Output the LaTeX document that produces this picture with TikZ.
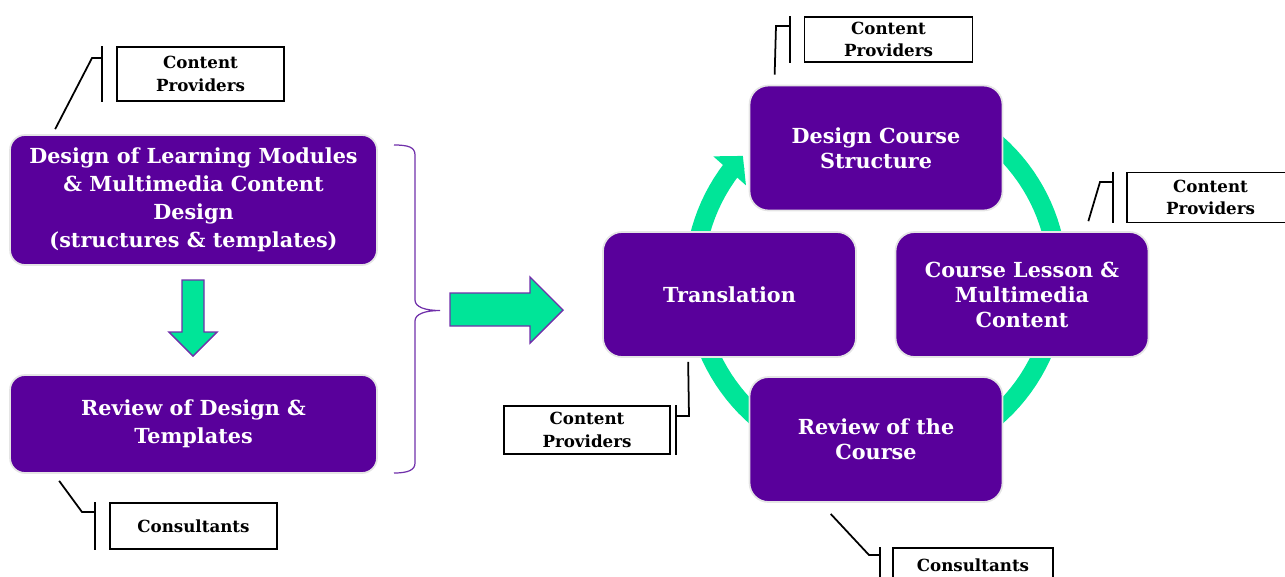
\documentclass[tikz,border=0pt]{standalone}
\usepackage{fontspec}
\setmainfont{DejaVu Serif}
\usetikzlibrary{arrows.meta}

\definecolor{boxpurple}{RGB}{89,0,155}
\definecolor{ringgreen}{RGB}{0,229,152}
\definecolor{edgepurple}{RGB}{112,48,170}

\begin{document}
\begin{tikzpicture}[x=0.02cm,y=-0.02cm,semithick]
  \tikzstyle{task}=[rectangle,rounded corners=0.3cm,fill=boxpurple,draw=black!10,
    line width=1pt,text=white,align=center,font=\bfseries\fontsize{11.8}{15.9}\selectfont]
  \tikzstyle{stage}=[task,rounded corners=0.38cm,minimum width=5.06cm,minimum height=2.5cm,
    font=\bfseries\fontsize{11.8}{14.2}\selectfont]
  \tikzstyle{note}=[rectangle,fill=white,draw=black,line width=1pt,align=center,inner sep=1pt,
    minimum width=3.34cm,font=\bfseries\fontsize{9.5}{12.9}\selectfont]
  \tikzstyle{lead}=[black,line width=1pt]

  \clip (0,0) rectangle (1285,576);

  % green cycle arrow
  \draw[ringgreen,line width=0.38cm,-{Triangle[length=0.4cm,width=0.85cm]}]
    plot[domain=-100:223,samples=120] ({876+182*cos(\x)},{280+182*sin(\x)});

  % left column
  \node[task,minimum width=7.34cm,minimum height=2.6cm] (DM) at (193.5,200)
    {Design of Learning Modules\\ \& Multimedia Content\\ Design\\ (structures \& templates)};
  \node[task,minimum width=7.34cm,minimum height=1.96cm] (RD) at (193.5,424)
    {Review of Design \&\\ Templates};

  % right cycle
  \node[stage] (DC) at (876,148)    {Design Course\\ Structure};
  \node[stage] (CL) at (1022,294.5) {Course Lesson \&\\ Multimedia\\ Content};
  \node[stage] (TR) at (729.5,294.5) {Translation};
  \node[stage] (RC) at (876,439.5)  {Review of the\\ Course};

  % block arrows
  \filldraw[fill=ringgreen,draw=edgepurple,line width=0.8pt]
    (182,280) -- (204,280) -- (204,332) -- (217,332) -- (193,356) -- (169,332) -- (182,332) -- cycle;
  \filldraw[fill=ringgreen,draw=edgepurple,line width=0.8pt]
    (450,293) -- (530,293) -- (530,277) -- (563,310) -- (530,343) -- (530,326) -- (450,326) -- cycle;

  % brace
  \draw[edgepurple,line width=0.7pt] (394,145) .. controls (408,145) and (415,147) .. (415,155)
    -- (415,300) .. controls (415,307) and (425,310.5) .. (440,310.5)
    .. controls (425,310.5) and (415,314) .. (415,321)
    -- (415,463) .. controls (415,470) and (408,473) .. (394,473);

  % callouts
  \node[note,minimum height=1.08cm] (P1) at (200.5,74)    {Content\\ Providers};
  \node[note,minimum height=0.92cm] (C1) at (193.5,526)   {Consultants};
  \node[note,minimum width=3.36cm,minimum height=0.9cm] (P2) at (888.5,39.5) {Content\\ Providers};
  \node[note,minimum height=1.0cm]  (P3) at (1210.5,197.5) {Content\\ Providers};
  \node[note,minimum width=3.32cm,minimum height=0.96cm] (P4) at (587,430) {Content\\ Providers};
  \node[note,minimum width=3.2cm,minimum height=0.68cm] (C2) at (973,565) {Consultants};

  \coordinate (k1) at (92,58);
  \coordinate (k2) at (82,512);
  \coordinate (k3) at (776,26);
  \coordinate (k4) at (1100,182);
  \coordinate (k5) at (689,416);
  \coordinate (k6) at (869,555);

  \draw[lead] ([xshift=-0.28cm]P1.north west) coordinate (b1) -- ([xshift=-0.28cm]P1.south west);
  \draw[lead] ([shift={(46,-5)}]DM.north west) -- (k1) -- (k1 -| b1);

  \draw[lead] ([xshift=-0.28cm]C1.north west) coordinate (b2) -- ([xshift=-0.28cm]C1.south west);
  \draw[lead] ([shift={(50,7)}]RD.south west) -- (k2) -- (k2 -| b2);

  \draw[lead] ([xshift=-0.28cm]P2.north west) coordinate (b3) -- ([xshift=-0.28cm]P2.south west);
  \draw[lead] ([shift={(26,-10)}]DC.north west) -- (k3) -- (k3 -| b3);

  \draw[lead] ([xshift=-0.26cm]P3.north west) coordinate (b4) -- ([xshift=-0.26cm]P3.south west);
  \draw[lead] ([shift={(-61,-10)}]CL.north east) -- (k4) -- (k4 -| b4);

  \draw[lead] ([xshift=0.1cm]P4.north east) coordinate (b5) -- ([xshift=0.1cm]P4.south east);
  \draw[lead] ([shift={(86,4)}]TR.south west) -- (k5) -- (k5 -| b5);

  \draw[lead] ([xshift=-0.24cm]C2.north west) coordinate (b6) -- ([xshift=-0.24cm]C2.south west);
  \draw[lead] ([shift={(82,11)}]RC.south west) -- (k6) -- (k6 -| b6);
\end{tikzpicture}
\end{document}
